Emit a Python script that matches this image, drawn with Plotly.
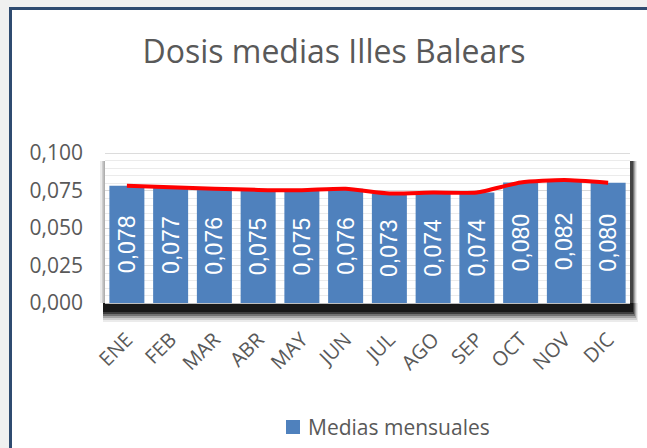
import plotly.graph_objects as go

months = ["ENE", "FEB", "MAR", "ABR", "MAY", "JUN", "JUL", "AGO", "SEP", "OCT", "NOV", "DIC"]
medias = [0.0782, 0.0772, 0.0762, 0.0754, 0.0752, 0.0761, 0.0730, 0.0736, 0.0737, 0.0803, 0.0820, 0.0802]
y_ticks = [0.0, 0.025, 0.05, 0.075, 0.1]
legend_label = "Medias mensuales"

W, H = 647, 448
L, R, T, B = 105, 17, 153, 145
PW, PH = W - L - R, H - T - B


def px(x):
    return (x - L) / PW


def py(y):
    return 1 - (y - T) / PH


fig = go.Figure()
fig.add_trace(go.Bar(
    x=months, y=medias, name=legend_label, showlegend=False,
    marker=dict(color="#4f81bd", line=dict(width=0)),
    texttemplate="%{y:.3f}", textposition="inside", insidetextanchor="middle",
    textangle=-90, insidetextfont=dict(family="Liberation Sans", size=23, color="white"),
    constraintext="none",
))
fig.add_trace(go.Scatter(
    x=months, y=medias, mode="lines", showlegend=False,
    line=dict(color="#ff0000", width=4, shape="spline", smoothing=0.6),
))

shapes = []
# chart card
shapes.append(dict(type="rect", xref="paper", yref="paper", x0=px(10.5), x1=px(700), y0=py(8.5), y1=py(520),
                   fillcolor="white", line=dict(color="#2f4b70", width=3), layer="below"))
# plot-area drop shadow
for dx, dy, op in [(8, 19, 0.08), (7, 17, 0.12), (6, 15, 0.2), (5, 13, 0.3), (4, 11, 0.45), (3, 9, 0.6)]:
    shapes.append(dict(type="rect", xref="paper", yref="paper", x0=px(L - 2), x1=px(L + PW + dx),
                       y0=py(T + PH), y1=py(T + PH + dy), fillcolor="black", opacity=op,
                       line=dict(width=0), layer="below"))
for dx, op in [(7, 0.08), (6, 0.12), (5, 0.2), (4, 0.3), (3, 0.4)]:
    shapes.append(dict(type="rect", xref="paper", yref="paper", x0=px(L + PW), x1=px(L + PW + dx),
                       y0=py(T + 8), y1=py(T + PH), fillcolor="black", opacity=op,
                       line=dict(width=0), layer="below"))
for dx, op in [(5, 0.08), (3, 0.12), (1.5, 0.15)]:
    shapes.append(dict(type="rect", xref="paper", yref="paper", x0=px(L - dx), x1=px(L),
                       y0=py(T + 8), y1=py(T + PH), fillcolor="black", opacity=op,
                       line=dict(width=0), layer="below"))
# top gridline (plotly drops the one at the range edge)
shapes.append(dict(type="line", xref="paper", yref="y", x0=0, x1=1, y0=y_ticks[-1], y1=y_ticks[-1],
                   line=dict(color="#d0d0d0", width=1.5), layer="below"))
# legend key
shapes.append(dict(type="rect", xref="paper", yref="paper", x0=px(286), x1=px(300), y0=py(420), y1=py(434),
                   fillcolor="#4f81bd", line=dict(width=0), layer="above"))
fig.update_layout(shapes=shapes)
fig.add_annotation(text=legend_label, xref="paper", yref="paper", x=px(306), y=py(427),
                   xanchor="left", yanchor="middle", showarrow=False,
                   font=dict(family="Open Sans", size=21, color="#595959"))

fig.update_layout(
    width=W, height=H,
    margin=dict(l=L, r=R, t=T, b=B),
    paper_bgcolor="#f0f0f0", plot_bgcolor="white",
    separators=",.",
    bargap=0.2,
    font=dict(family="Open Sans", color="#595959"),
    title=dict(text="Dosis medias Illes Balears", font=dict(family="Open Sans", size=32, color="#595959"),
               xref="container", yref="container", x=334 / W, y=1 - 52 / H, xanchor="center", yanchor="middle"),
    showlegend=False,
)
fig.update_yaxes(range=[0, 0.1], tickvals=y_ticks, tickformat=".3f",
                 tickfont=dict(family="Open Sans", size=21, color="#595959"),
                 showgrid=True, gridcolor="#d9d9d9", gridwidth=1,
                 minor=dict(dtick=0.005, showgrid=True, gridcolor="#ebebeb", gridwidth=1),
                 zeroline=False, showline=False, ticklabelstandoff=21, fixedrange=True)
fig.update_xaxes(tickangle=-45, tickfont=dict(family="Open Sans", size=20, color="#595959"),
                 showline=True, linecolor="#bfbfbf", linewidth=1, ticklabelstandoff=16,
                 fixedrange=True)

fig.write_html("out.html", config={"displayModeBar": False},
               post_script="document.body.style.margin='0';document.body.style.background='#f0f0f0';")
